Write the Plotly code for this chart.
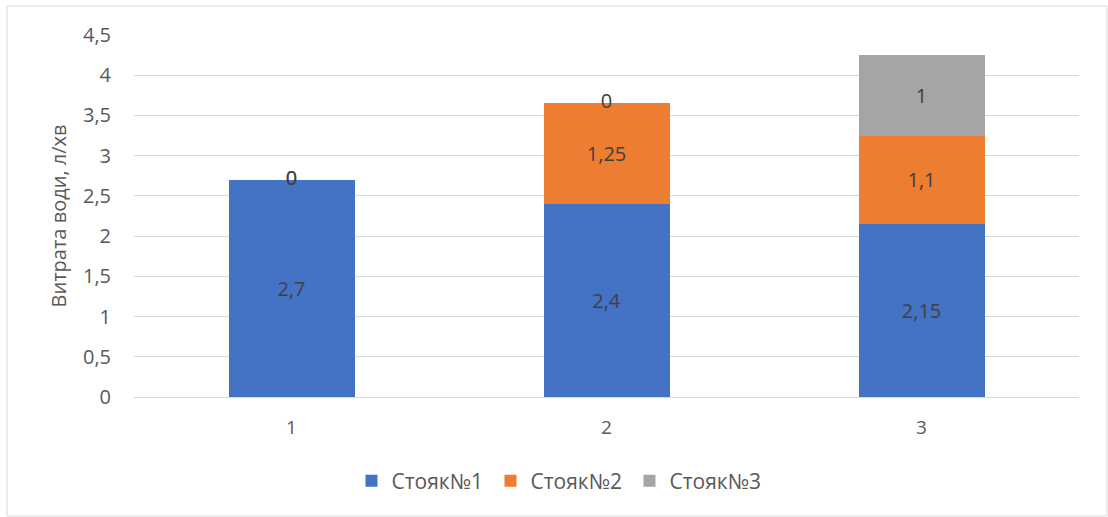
import plotly.graph_objects as go

# Water consumption per riser for each test
categories = ["1", "2", "3"]
series_names = ["Стояк№1", "Стояк№2", "Стояк№3"]
riser1 = [2.7, 2.4, 2.15]
riser2 = [0, 1.25, 1.1]
riser3 = [0, 0, 1]
colors = ["#4472C4", "#ED7D31", "#A5A5A5"]
y_ticks = [0, 0.5, 1, 1.5, 2, 2.5, 3, 3.5, 4, 4.5]

W, H = 1108, 517
L, R, T, B = 134, 29, 35, 120
FONT = "Open Sans"


def fmt(v):
    return f"{v:g}".replace(".", ",")


fig = go.Figure()
series = [riser1, riser2, riser3]
for name, vals, col in zip(series_names, series, colors):
    fig.add_trace(go.Bar(
        x=categories, y=vals, name=name,
        marker=dict(color=col, line=dict(width=0)),
        text=[fmt(v) if v else "" for v in vals],
        textposition="inside", insidetextanchor="middle",
        textfont=dict(family=FONT, size=20, color="#404040"),
        hoverinfo="skip",
    ))

# Zero-valued segments still get a label at their stack position
zx, zy, zt = [], [], []
for i, cat in enumerate(categories):
    base = 0.0
    for vals in series:
        if vals[i] == 0:
            zx.append(cat)
            zy.append(base)
            zt.append(fmt(vals[i]))
        base += vals[i]
fig.add_trace(go.Scatter(
    x=zx, y=zy, text=zt, mode="text", showlegend=False,
    textfont=dict(family=FONT, size=20, color="#404040"),
    hoverinfo="skip",
))

pw = W - L - R
ph = H - T - B
fig.add_shape(
    type="rect", xref="paper", yref="paper",
    x0=(7 - L) / pw, x1=(W - 1 - L) / pw,
    y0=(H - B - (H - 1)) / ph, y1=(H - B - 6) / ph,
    line=dict(color="#D9D9D9", width=1), fillcolor="rgba(0,0,0,0)",
    layer="below",
)

fig.update_layout(
    width=W, height=H,
    barmode="stack", bargap=0.6,
    separators=", ",
    paper_bgcolor="white", plot_bgcolor="white",
    margin=dict(l=L, r=R, t=T, b=B, pad=0),
    font=dict(family=FONT, size=20, color="#595959"),
    xaxis=dict(
        type="category", showgrid=False, showline=False, zeroline=False,
        ticks="", tickfont=dict(size=19, color="#595959"),
        ticklabelstandoff=17,
        range=[-0.5, 2.5],
    ),
    yaxis=dict(
        range=[0, 4.5], tickvals=y_ticks,
        showgrid=True, gridcolor="#D9D9D9", gridwidth=1,
        zeroline=True, zerolinecolor="#D9D9D9", zerolinewidth=1,
        showline=False, ticks="", ticklabelstandoff=22,
        tickfont=dict(size=20, color="#595959"),
        title=dict(text="Витрата води, л/хв", font=dict(size=20, color="#595959"), standoff=10),
    ),
    legend=dict(
        orientation="h", xref="container", yref="container",
        x=560 / W, y=1 - 481 / H, xanchor="center", yanchor="middle",
        font=dict(size=21, color="#595959"), traceorder="normal",
        itemwidth=30, entrywidth=94, entrywidthmode="pixels",
    ),
    showlegend=True,
)

fig.write_html("out.html")
